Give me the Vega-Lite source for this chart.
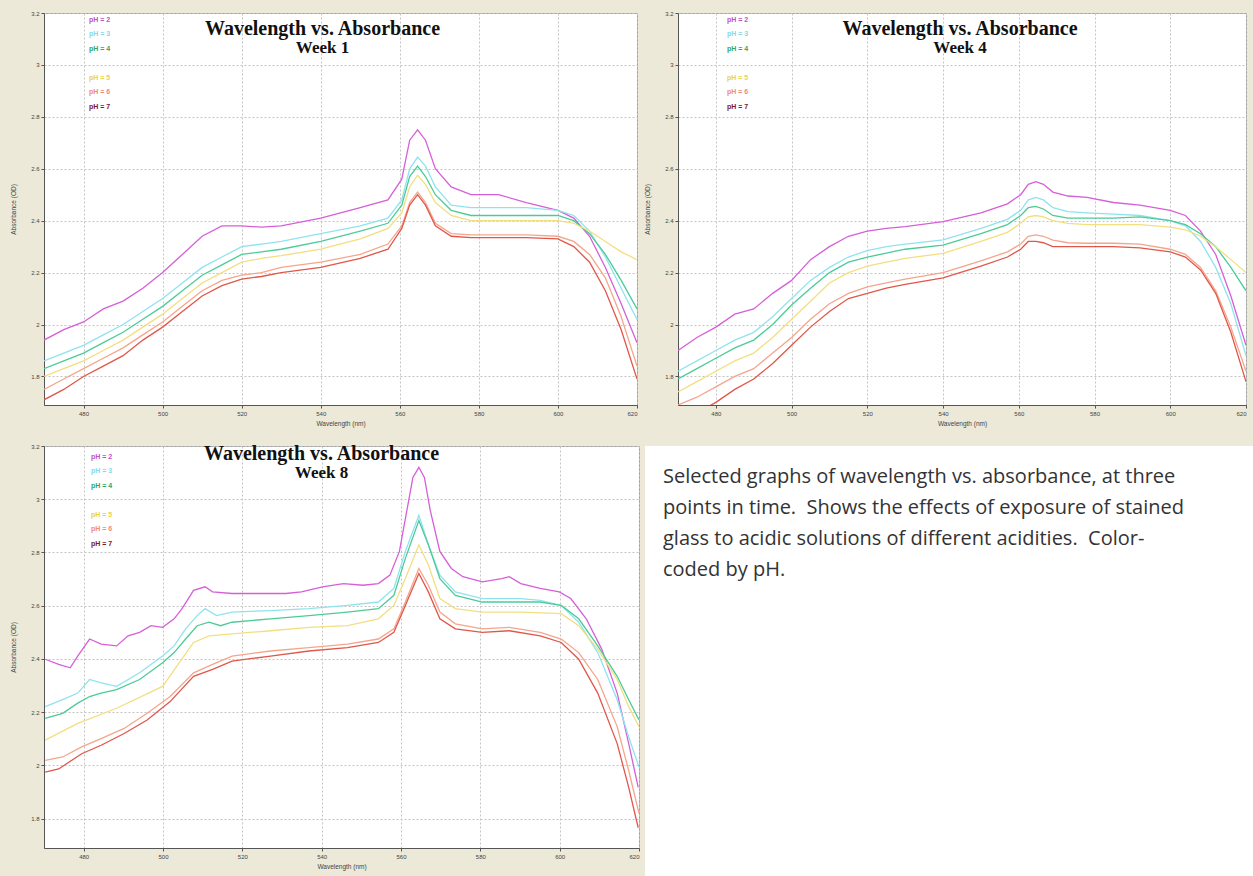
{
"$schema": "https://vega.github.io/schema/vega-lite/v6.json",
"background": "#ECE9D8",
"padding": {"left": 9, "top": 9, "right": 0, "bottom": 0},
"datasets": {
"note": [
{"line": 1, "text": "Selected graphs of wavelength vs. absorbance, at three"},
{"line": 2, "text": "points in time.\u00a0 Shows the effects of exposure of stained"},
{"line": 3, "text": "glass to acidic solutions of different acidities.\u00a0 Color-"},
{"line": 4, "text": "coded by pH."}
],
"spectra": [
{"week":1,"pH":2,"nm":470,"absorbance":1.94},{"week":1,"pH":2,"nm":475,"absorbance":1.98},{"week":1,"pH":2,"nm":480,"absorbance":2.01},{"week":1,"pH":2,"nm":485,"absorbance":2.06},{"week":1,"pH":2,"nm":490,"absorbance":2.09},{"week":1,"pH":2,"nm":495,"absorbance":2.14},{"week":1,"pH":2,"nm":500,"absorbance":2.2},{"week":1,"pH":2,"nm":505,"absorbance":2.27},{"week":1,"pH":2,"nm":510,"absorbance":2.34},{"week":1,"pH":2,"nm":515,"absorbance":2.38},{"week":1,"pH":2,"nm":520,"absorbance":2.38},{"week":1,"pH":2,"nm":525,"absorbance":2.375},{"week":1,"pH":2,"nm":530,"absorbance":2.38},{"week":1,"pH":2,"nm":540,"absorbance":2.41},{"week":1,"pH":2,"nm":550,"absorbance":2.45},{"week":1,"pH":2,"nm":557,"absorbance":2.48},{"week":1,"pH":2,"nm":560.5,"absorbance":2.56},{"week":1,"pH":2,"nm":562.5,"absorbance":2.71},{"week":1,"pH":2,"nm":564.5,"absorbance":2.75},{"week":1,"pH":2,"nm":566.5,"absorbance":2.71},{"week":1,"pH":2,"nm":569,"absorbance":2.6},{"week":1,"pH":2,"nm":573,"absorbance":2.53},{"week":1,"pH":2,"nm":578,"absorbance":2.5},{"week":1,"pH":2,"nm":585,"absorbance":2.5},{"week":1,"pH":2,"nm":592,"absorbance":2.47},{"week":1,"pH":2,"nm":600,"absorbance":2.44},{"week":1,"pH":2,"nm":604,"absorbance":2.41},{"week":1,"pH":2,"nm":608,"absorbance":2.34},{"week":1,"pH":2,"nm":612,"absorbance":2.22},{"week":1,"pH":2,"nm":616,"absorbance":2.08},{"week":1,"pH":2,"nm":620,"absorbance":1.93},
{"week":1,"pH":3,"nm":470,"absorbance":1.86},{"week":1,"pH":3,"nm":475,"absorbance":1.89},{"week":1,"pH":3,"nm":480,"absorbance":1.92},{"week":1,"pH":3,"nm":485,"absorbance":1.96},{"week":1,"pH":3,"nm":490,"absorbance":2.0},{"week":1,"pH":3,"nm":495,"absorbance":2.05},{"week":1,"pH":3,"nm":500,"absorbance":2.1},{"week":1,"pH":3,"nm":505,"absorbance":2.16},{"week":1,"pH":3,"nm":510,"absorbance":2.22},{"week":1,"pH":3,"nm":515,"absorbance":2.26},{"week":1,"pH":3,"nm":520,"absorbance":2.3},{"week":1,"pH":3,"nm":525,"absorbance":2.31},{"week":1,"pH":3,"nm":530,"absorbance":2.32},{"week":1,"pH":3,"nm":540,"absorbance":2.35},{"week":1,"pH":3,"nm":550,"absorbance":2.38},{"week":1,"pH":3,"nm":557,"absorbance":2.41},{"week":1,"pH":3,"nm":560.5,"absorbance":2.48},{"week":1,"pH":3,"nm":562.5,"absorbance":2.6},{"week":1,"pH":3,"nm":564.5,"absorbance":2.645},{"week":1,"pH":3,"nm":566.5,"absorbance":2.61},{"week":1,"pH":3,"nm":569,"absorbance":2.53},{"week":1,"pH":3,"nm":573,"absorbance":2.46},{"week":1,"pH":3,"nm":578,"absorbance":2.45},{"week":1,"pH":3,"nm":585,"absorbance":2.45},{"week":1,"pH":3,"nm":592,"absorbance":2.45},{"week":1,"pH":3,"nm":600,"absorbance":2.44},{"week":1,"pH":3,"nm":604,"absorbance":2.42},{"week":1,"pH":3,"nm":608,"absorbance":2.36},{"week":1,"pH":3,"nm":612,"absorbance":2.26},{"week":1,"pH":3,"nm":616,"absorbance":2.14},{"week":1,"pH":3,"nm":620,"absorbance":2.02},
{"week":1,"pH":4,"nm":470,"absorbance":1.83},{"week":1,"pH":4,"nm":475,"absorbance":1.86},{"week":1,"pH":4,"nm":480,"absorbance":1.89},{"week":1,"pH":4,"nm":485,"absorbance":1.93},{"week":1,"pH":4,"nm":490,"absorbance":1.97},{"week":1,"pH":4,"nm":495,"absorbance":2.02},{"week":1,"pH":4,"nm":500,"absorbance":2.07},{"week":1,"pH":4,"nm":505,"absorbance":2.13},{"week":1,"pH":4,"nm":510,"absorbance":2.19},{"week":1,"pH":4,"nm":515,"absorbance":2.23},{"week":1,"pH":4,"nm":520,"absorbance":2.27},{"week":1,"pH":4,"nm":525,"absorbance":2.28},{"week":1,"pH":4,"nm":530,"absorbance":2.29},{"week":1,"pH":4,"nm":540,"absorbance":2.32},{"week":1,"pH":4,"nm":550,"absorbance":2.36},{"week":1,"pH":4,"nm":557,"absorbance":2.39},{"week":1,"pH":4,"nm":560.5,"absorbance":2.46},{"week":1,"pH":4,"nm":562.5,"absorbance":2.57},{"week":1,"pH":4,"nm":564.5,"absorbance":2.61},{"week":1,"pH":4,"nm":566.5,"absorbance":2.57},{"week":1,"pH":4,"nm":569,"absorbance":2.5},{"week":1,"pH":4,"nm":573,"absorbance":2.44},{"week":1,"pH":4,"nm":578,"absorbance":2.42},{"week":1,"pH":4,"nm":585,"absorbance":2.42},{"week":1,"pH":4,"nm":592,"absorbance":2.42},{"week":1,"pH":4,"nm":600,"absorbance":2.42},{"week":1,"pH":4,"nm":604,"absorbance":2.4},{"week":1,"pH":4,"nm":608,"absorbance":2.35},{"week":1,"pH":4,"nm":612,"absorbance":2.27},{"week":1,"pH":4,"nm":616,"absorbance":2.17},{"week":1,"pH":4,"nm":620,"absorbance":2.06},
{"week":1,"pH":5,"nm":470,"absorbance":1.8},{"week":1,"pH":5,"nm":475,"absorbance":1.83},{"week":1,"pH":5,"nm":480,"absorbance":1.86},{"week":1,"pH":5,"nm":485,"absorbance":1.9},{"week":1,"pH":5,"nm":490,"absorbance":1.94},{"week":1,"pH":5,"nm":495,"absorbance":1.99},{"week":1,"pH":5,"nm":500,"absorbance":2.04},{"week":1,"pH":5,"nm":505,"absorbance":2.1},{"week":1,"pH":5,"nm":510,"absorbance":2.16},{"week":1,"pH":5,"nm":515,"absorbance":2.2},{"week":1,"pH":5,"nm":520,"absorbance":2.24},{"week":1,"pH":5,"nm":525,"absorbance":2.255},{"week":1,"pH":5,"nm":530,"absorbance":2.265},{"week":1,"pH":5,"nm":540,"absorbance":2.29},{"week":1,"pH":5,"nm":550,"absorbance":2.33},{"week":1,"pH":5,"nm":557,"absorbance":2.37},{"week":1,"pH":5,"nm":560.5,"absorbance":2.43},{"week":1,"pH":5,"nm":562.5,"absorbance":2.53},{"week":1,"pH":5,"nm":564.5,"absorbance":2.575},{"week":1,"pH":5,"nm":566.5,"absorbance":2.54},{"week":1,"pH":5,"nm":569,"absorbance":2.47},{"week":1,"pH":5,"nm":573,"absorbance":2.42},{"week":1,"pH":5,"nm":578,"absorbance":2.4},{"week":1,"pH":5,"nm":585,"absorbance":2.4},{"week":1,"pH":5,"nm":592,"absorbance":2.4},{"week":1,"pH":5,"nm":600,"absorbance":2.4},{"week":1,"pH":5,"nm":604,"absorbance":2.39},{"week":1,"pH":5,"nm":608,"absorbance":2.36},{"week":1,"pH":5,"nm":612,"absorbance":2.32},{"week":1,"pH":5,"nm":616,"absorbance":2.28},{"week":1,"pH":5,"nm":620,"absorbance":2.25},
{"week":1,"pH":6,"nm":470,"absorbance":1.75},{"week":1,"pH":6,"nm":475,"absorbance":1.79},{"week":1,"pH":6,"nm":480,"absorbance":1.83},{"week":1,"pH":6,"nm":485,"absorbance":1.87},{"week":1,"pH":6,"nm":490,"absorbance":1.91},{"week":1,"pH":6,"nm":495,"absorbance":1.96},{"week":1,"pH":6,"nm":500,"absorbance":2.01},{"week":1,"pH":6,"nm":505,"absorbance":2.07},{"week":1,"pH":6,"nm":510,"absorbance":2.13},{"week":1,"pH":6,"nm":515,"absorbance":2.17},{"week":1,"pH":6,"nm":520,"absorbance":2.19},{"week":1,"pH":6,"nm":525,"absorbance":2.2},{"week":1,"pH":6,"nm":530,"absorbance":2.22},{"week":1,"pH":6,"nm":540,"absorbance":2.24},{"week":1,"pH":6,"nm":550,"absorbance":2.27},{"week":1,"pH":6,"nm":557,"absorbance":2.31},{"week":1,"pH":6,"nm":560.5,"absorbance":2.38},{"week":1,"pH":6,"nm":562.5,"absorbance":2.47},{"week":1,"pH":6,"nm":564.5,"absorbance":2.51},{"week":1,"pH":6,"nm":566.5,"absorbance":2.47},{"week":1,"pH":6,"nm":569,"absorbance":2.39},{"week":1,"pH":6,"nm":573,"absorbance":2.35},{"week":1,"pH":6,"nm":578,"absorbance":2.345},{"week":1,"pH":6,"nm":585,"absorbance":2.345},{"week":1,"pH":6,"nm":592,"absorbance":2.345},{"week":1,"pH":6,"nm":600,"absorbance":2.34},{"week":1,"pH":6,"nm":604,"absorbance":2.32},{"week":1,"pH":6,"nm":608,"absorbance":2.27},{"week":1,"pH":6,"nm":612,"absorbance":2.18},{"week":1,"pH":6,"nm":616,"absorbance":2.03},{"week":1,"pH":6,"nm":620,"absorbance":1.84},
{"week":1,"pH":7,"nm":470,"absorbance":1.71},{"week":1,"pH":7,"nm":475,"absorbance":1.75},{"week":1,"pH":7,"nm":480,"absorbance":1.8},{"week":1,"pH":7,"nm":485,"absorbance":1.84},{"week":1,"pH":7,"nm":490,"absorbance":1.88},{"week":1,"pH":7,"nm":495,"absorbance":1.94},{"week":1,"pH":7,"nm":500,"absorbance":1.99},{"week":1,"pH":7,"nm":505,"absorbance":2.05},{"week":1,"pH":7,"nm":510,"absorbance":2.11},{"week":1,"pH":7,"nm":515,"absorbance":2.15},{"week":1,"pH":7,"nm":520,"absorbance":2.175},{"week":1,"pH":7,"nm":525,"absorbance":2.185},{"week":1,"pH":7,"nm":530,"absorbance":2.2},{"week":1,"pH":7,"nm":540,"absorbance":2.22},{"week":1,"pH":7,"nm":550,"absorbance":2.255},{"week":1,"pH":7,"nm":557,"absorbance":2.29},{"week":1,"pH":7,"nm":560.5,"absorbance":2.37},{"week":1,"pH":7,"nm":562.5,"absorbance":2.46},{"week":1,"pH":7,"nm":564.5,"absorbance":2.5},{"week":1,"pH":7,"nm":566.5,"absorbance":2.46},{"week":1,"pH":7,"nm":569,"absorbance":2.38},{"week":1,"pH":7,"nm":573,"absorbance":2.34},{"week":1,"pH":7,"nm":578,"absorbance":2.335},{"week":1,"pH":7,"nm":585,"absorbance":2.335},{"week":1,"pH":7,"nm":592,"absorbance":2.335},{"week":1,"pH":7,"nm":600,"absorbance":2.33},{"week":1,"pH":7,"nm":604,"absorbance":2.3},{"week":1,"pH":7,"nm":608,"absorbance":2.24},{"week":1,"pH":7,"nm":612,"absorbance":2.13},{"week":1,"pH":7,"nm":616,"absorbance":1.98},{"week":1,"pH":7,"nm":620,"absorbance":1.79},
{"week":4,"pH":2,"nm":470,"absorbance":1.9},{"week":4,"pH":2,"nm":475,"absorbance":1.95},{"week":4,"pH":2,"nm":480,"absorbance":1.99},{"week":4,"pH":2,"nm":485,"absorbance":2.04},{"week":4,"pH":2,"nm":490,"absorbance":2.06},{"week":4,"pH":2,"nm":495,"absorbance":2.12},{"week":4,"pH":2,"nm":500,"absorbance":2.17},{"week":4,"pH":2,"nm":505,"absorbance":2.25},{"week":4,"pH":2,"nm":510,"absorbance":2.3},{"week":4,"pH":2,"nm":515,"absorbance":2.34},{"week":4,"pH":2,"nm":520,"absorbance":2.36},{"week":4,"pH":2,"nm":525,"absorbance":2.37},{"week":4,"pH":2,"nm":530,"absorbance":2.377},{"week":4,"pH":2,"nm":540,"absorbance":2.396},{"week":4,"pH":2,"nm":550,"absorbance":2.43},{"week":4,"pH":2,"nm":557,"absorbance":2.465},{"week":4,"pH":2,"nm":560.5,"absorbance":2.5},{"week":4,"pH":2,"nm":562.5,"absorbance":2.54},{"week":4,"pH":2,"nm":564.5,"absorbance":2.55},{"week":4,"pH":2,"nm":566.5,"absorbance":2.54},{"week":4,"pH":2,"nm":569,"absorbance":2.51},{"week":4,"pH":2,"nm":573,"absorbance":2.495},{"week":4,"pH":2,"nm":578,"absorbance":2.49},{"week":4,"pH":2,"nm":585,"absorbance":2.47},{"week":4,"pH":2,"nm":592,"absorbance":2.46},{"week":4,"pH":2,"nm":600,"absorbance":2.44},{"week":4,"pH":2,"nm":604,"absorbance":2.42},{"week":4,"pH":2,"nm":608,"absorbance":2.36},{"week":4,"pH":2,"nm":612,"absorbance":2.27},{"week":4,"pH":2,"nm":616,"absorbance":2.11},{"week":4,"pH":2,"nm":620,"absorbance":1.92},
{"week":4,"pH":3,"nm":470,"absorbance":1.82},{"week":4,"pH":3,"nm":475,"absorbance":1.86},{"week":4,"pH":3,"nm":480,"absorbance":1.9},{"week":4,"pH":3,"nm":485,"absorbance":1.94},{"week":4,"pH":3,"nm":490,"absorbance":1.97},{"week":4,"pH":3,"nm":495,"absorbance":2.03},{"week":4,"pH":3,"nm":500,"absorbance":2.1},{"week":4,"pH":3,"nm":505,"absorbance":2.17},{"week":4,"pH":3,"nm":510,"absorbance":2.22},{"week":4,"pH":3,"nm":515,"absorbance":2.26},{"week":4,"pH":3,"nm":520,"absorbance":2.285},{"week":4,"pH":3,"nm":525,"absorbance":2.3},{"week":4,"pH":3,"nm":530,"absorbance":2.31},{"week":4,"pH":3,"nm":540,"absorbance":2.326},{"week":4,"pH":3,"nm":550,"absorbance":2.37},{"week":4,"pH":3,"nm":557,"absorbance":2.405},{"week":4,"pH":3,"nm":560.5,"absorbance":2.44},{"week":4,"pH":3,"nm":562.5,"absorbance":2.48},{"week":4,"pH":3,"nm":564.5,"absorbance":2.49},{"week":4,"pH":3,"nm":566.5,"absorbance":2.48},{"week":4,"pH":3,"nm":569,"absorbance":2.45},{"week":4,"pH":3,"nm":573,"absorbance":2.435},{"week":4,"pH":3,"nm":578,"absorbance":2.43},{"week":4,"pH":3,"nm":585,"absorbance":2.425},{"week":4,"pH":3,"nm":592,"absorbance":2.42},{"week":4,"pH":3,"nm":600,"absorbance":2.4},{"week":4,"pH":3,"nm":604,"absorbance":2.38},{"week":4,"pH":3,"nm":608,"absorbance":2.32},{"week":4,"pH":3,"nm":612,"absorbance":2.22},{"week":4,"pH":3,"nm":616,"absorbance":2.08},{"week":4,"pH":3,"nm":620,"absorbance":1.88},
{"week":4,"pH":4,"nm":470,"absorbance":1.79},{"week":4,"pH":4,"nm":475,"absorbance":1.83},{"week":4,"pH":4,"nm":480,"absorbance":1.87},{"week":4,"pH":4,"nm":485,"absorbance":1.91},{"week":4,"pH":4,"nm":490,"absorbance":1.94},{"week":4,"pH":4,"nm":495,"absorbance":2.0},{"week":4,"pH":4,"nm":500,"absorbance":2.075},{"week":4,"pH":4,"nm":505,"absorbance":2.14},{"week":4,"pH":4,"nm":510,"absorbance":2.2},{"week":4,"pH":4,"nm":515,"absorbance":2.24},{"week":4,"pH":4,"nm":520,"absorbance":2.26},{"week":4,"pH":4,"nm":525,"absorbance":2.275},{"week":4,"pH":4,"nm":530,"absorbance":2.29},{"week":4,"pH":4,"nm":540,"absorbance":2.306},{"week":4,"pH":4,"nm":550,"absorbance":2.35},{"week":4,"pH":4,"nm":557,"absorbance":2.385},{"week":4,"pH":4,"nm":560.5,"absorbance":2.42},{"week":4,"pH":4,"nm":562.5,"absorbance":2.45},{"week":4,"pH":4,"nm":564.5,"absorbance":2.455},{"week":4,"pH":4,"nm":566.5,"absorbance":2.445},{"week":4,"pH":4,"nm":569,"absorbance":2.42},{"week":4,"pH":4,"nm":573,"absorbance":2.41},{"week":4,"pH":4,"nm":578,"absorbance":2.41},{"week":4,"pH":4,"nm":585,"absorbance":2.41},{"week":4,"pH":4,"nm":592,"absorbance":2.415},{"week":4,"pH":4,"nm":600,"absorbance":2.4},{"week":4,"pH":4,"nm":604,"absorbance":2.385},{"week":4,"pH":4,"nm":608,"absorbance":2.35},{"week":4,"pH":4,"nm":612,"absorbance":2.3},{"week":4,"pH":4,"nm":616,"absorbance":2.22},{"week":4,"pH":4,"nm":620,"absorbance":2.13},
{"week":4,"pH":5,"nm":470,"absorbance":1.74},{"week":4,"pH":5,"nm":475,"absorbance":1.78},{"week":4,"pH":5,"nm":480,"absorbance":1.82},{"week":4,"pH":5,"nm":485,"absorbance":1.86},{"week":4,"pH":5,"nm":490,"absorbance":1.89},{"week":4,"pH":5,"nm":495,"absorbance":1.95},{"week":4,"pH":5,"nm":500,"absorbance":2.02},{"week":4,"pH":5,"nm":505,"absorbance":2.09},{"week":4,"pH":5,"nm":510,"absorbance":2.16},{"week":4,"pH":5,"nm":515,"absorbance":2.2},{"week":4,"pH":5,"nm":520,"absorbance":2.225},{"week":4,"pH":5,"nm":525,"absorbance":2.24},{"week":4,"pH":5,"nm":530,"absorbance":2.255},{"week":4,"pH":5,"nm":540,"absorbance":2.274},{"week":4,"pH":5,"nm":550,"absorbance":2.32},{"week":4,"pH":5,"nm":557,"absorbance":2.355},{"week":4,"pH":5,"nm":560.5,"absorbance":2.39},{"week":4,"pH":5,"nm":562.5,"absorbance":2.415},{"week":4,"pH":5,"nm":564.5,"absorbance":2.42},{"week":4,"pH":5,"nm":566.5,"absorbance":2.415},{"week":4,"pH":5,"nm":569,"absorbance":2.4},{"week":4,"pH":5,"nm":573,"absorbance":2.39},{"week":4,"pH":5,"nm":578,"absorbance":2.385},{"week":4,"pH":5,"nm":585,"absorbance":2.385},{"week":4,"pH":5,"nm":592,"absorbance":2.385},{"week":4,"pH":5,"nm":600,"absorbance":2.375},{"week":4,"pH":5,"nm":604,"absorbance":2.365},{"week":4,"pH":5,"nm":608,"absorbance":2.34},{"week":4,"pH":5,"nm":612,"absorbance":2.3},{"week":4,"pH":5,"nm":616,"absorbance":2.25},{"week":4,"pH":5,"nm":620,"absorbance":2.2},
{"week":4,"pH":6,"nm":470,"absorbance":1.69},{"week":4,"pH":6,"nm":475,"absorbance":1.72},{"week":4,"pH":6,"nm":480,"absorbance":1.76},{"week":4,"pH":6,"nm":485,"absorbance":1.8},{"week":4,"pH":6,"nm":490,"absorbance":1.83},{"week":4,"pH":6,"nm":495,"absorbance":1.89},{"week":4,"pH":6,"nm":500,"absorbance":1.95},{"week":4,"pH":6,"nm":505,"absorbance":2.02},{"week":4,"pH":6,"nm":510,"absorbance":2.08},{"week":4,"pH":6,"nm":515,"absorbance":2.12},{"week":4,"pH":6,"nm":520,"absorbance":2.145},{"week":4,"pH":6,"nm":525,"absorbance":2.16},{"week":4,"pH":6,"nm":530,"absorbance":2.175},{"week":4,"pH":6,"nm":540,"absorbance":2.2},{"week":4,"pH":6,"nm":550,"absorbance":2.245},{"week":4,"pH":6,"nm":557,"absorbance":2.28},{"week":4,"pH":6,"nm":560.5,"absorbance":2.31},{"week":4,"pH":6,"nm":562.5,"absorbance":2.34},{"week":4,"pH":6,"nm":564.5,"absorbance":2.345},{"week":4,"pH":6,"nm":566.5,"absorbance":2.34},{"week":4,"pH":6,"nm":569,"absorbance":2.325},{"week":4,"pH":6,"nm":573,"absorbance":2.315},{"week":4,"pH":6,"nm":578,"absorbance":2.313},{"week":4,"pH":6,"nm":585,"absorbance":2.313},{"week":4,"pH":6,"nm":592,"absorbance":2.31},{"week":4,"pH":6,"nm":600,"absorbance":2.29},{"week":4,"pH":6,"nm":604,"absorbance":2.27},{"week":4,"pH":6,"nm":608,"absorbance":2.22},{"week":4,"pH":6,"nm":612,"absorbance":2.13},{"week":4,"pH":6,"nm":616,"absorbance":1.99},{"week":4,"pH":6,"nm":620,"absorbance":1.82},
{"week":4,"pH":7,"nm":470,"absorbance":1.63},{"week":4,"pH":7,"nm":475,"absorbance":1.66},{"week":4,"pH":7,"nm":480,"absorbance":1.7},{"week":4,"pH":7,"nm":485,"absorbance":1.75},{"week":4,"pH":7,"nm":490,"absorbance":1.79},{"week":4,"pH":7,"nm":495,"absorbance":1.85},{"week":4,"pH":7,"nm":500,"absorbance":1.92},{"week":4,"pH":7,"nm":505,"absorbance":1.99},{"week":4,"pH":7,"nm":510,"absorbance":2.05},{"week":4,"pH":7,"nm":515,"absorbance":2.1},{"week":4,"pH":7,"nm":520,"absorbance":2.12},{"week":4,"pH":7,"nm":525,"absorbance":2.14},{"week":4,"pH":7,"nm":530,"absorbance":2.155},{"week":4,"pH":7,"nm":540,"absorbance":2.18},{"week":4,"pH":7,"nm":550,"absorbance":2.225},{"week":4,"pH":7,"nm":557,"absorbance":2.26},{"week":4,"pH":7,"nm":560.5,"absorbance":2.29},{"week":4,"pH":7,"nm":562.5,"absorbance":2.32},{"week":4,"pH":7,"nm":564.5,"absorbance":2.32},{"week":4,"pH":7,"nm":566.5,"absorbance":2.315},{"week":4,"pH":7,"nm":569,"absorbance":2.3},{"week":4,"pH":7,"nm":573,"absorbance":2.3},{"week":4,"pH":7,"nm":578,"absorbance":2.3},{"week":4,"pH":7,"nm":585,"absorbance":2.3},{"week":4,"pH":7,"nm":592,"absorbance":2.295},{"week":4,"pH":7,"nm":600,"absorbance":2.28},{"week":4,"pH":7,"nm":604,"absorbance":2.26},{"week":4,"pH":7,"nm":608,"absorbance":2.21},{"week":4,"pH":7,"nm":612,"absorbance":2.12},{"week":4,"pH":7,"nm":616,"absorbance":1.97},{"week":4,"pH":7,"nm":620,"absorbance":1.78},
{"week":8,"pH":2,"nm":470.3,"absorbance":2.399},{"week":8,"pH":2,"nm":473.7,"absorbance":2.38},{"week":8,"pH":2,"nm":476.6,"absorbance":2.367},{"week":8,"pH":2,"nm":478.5,"absorbance":2.411},{"week":8,"pH":2,"nm":481.5,"absorbance":2.475},{"week":8,"pH":2,"nm":484.4,"absorbance":2.456},{"week":8,"pH":2,"nm":488.3,"absorbance":2.449},{"week":8,"pH":2,"nm":491.2,"absorbance":2.487},{"week":8,"pH":2,"nm":494.1,"absorbance":2.5},{"week":8,"pH":2,"nm":497,"absorbance":2.525},{"week":8,"pH":2,"nm":499.9,"absorbance":2.519},{"week":8,"pH":2,"nm":502.8,"absorbance":2.551},{"week":8,"pH":2,"nm":504.8,"absorbance":2.589},{"week":8,"pH":2,"nm":507.7,"absorbance":2.658},{"week":8,"pH":2,"nm":510.6,"absorbance":2.671},{"week":8,"pH":2,"nm":512.5,"absorbance":2.652},{"week":8,"pH":2,"nm":517.4,"absorbance":2.646},{"week":8,"pH":2,"nm":523.2,"absorbance":2.646},{"week":8,"pH":2,"nm":531,"absorbance":2.646},{"week":8,"pH":2,"nm":534.9,"absorbance":2.652},{"week":8,"pH":2,"nm":540.2,"absorbance":2.671},{"week":8,"pH":2,"nm":545.5,"absorbance":2.683},{"week":8,"pH":2,"nm":550.4,"absorbance":2.677},{"week":8,"pH":2,"nm":554.3,"absorbance":2.683},{"week":8,"pH":2,"nm":557.2,"absorbance":2.715},{"week":8,"pH":2,"nm":559.6,"absorbance":2.804},{"week":8,"pH":2,"nm":561.6,"absorbance":2.968},{"week":8,"pH":2,"nm":563,"absorbance":3.082},{"week":8,"pH":2,"nm":564.5,"absorbance":3.12},{"week":8,"pH":2,"nm":565.9,"absorbance":3.082},{"week":8,"pH":2,"nm":567.4,"absorbance":2.956},{"week":8,"pH":2,"nm":569.8,"absorbance":2.804},{"week":8,"pH":2,"nm":572.7,"absorbance":2.74},{"week":8,"pH":2,"nm":575.6,"absorbance":2.709},{"week":8,"pH":2,"nm":580.5,"absorbance":2.69},{"week":8,"pH":2,"nm":585.4,"absorbance":2.702},{"week":8,"pH":2,"nm":587.3,"absorbance":2.709},{"week":8,"pH":2,"nm":590.2,"absorbance":2.683},{"week":8,"pH":2,"nm":595.1,"absorbance":2.665},{"week":8,"pH":2,"nm":599.9,"absorbance":2.652},{"week":8,"pH":2,"nm":602.8,"absorbance":2.627},{"week":8,"pH":2,"nm":606.7,"absorbance":2.551},{"week":8,"pH":2,"nm":610.6,"absorbance":2.437},{"week":8,"pH":2,"nm":614.5,"absorbance":2.272},{"week":8,"pH":2,"nm":617.4,"absorbance":2.082},{"week":8,"pH":2,"nm":619.8,"absorbance":1.918},
{"week":8,"pH":3,"nm":470.3,"absorbance":2.221},{"week":8,"pH":3,"nm":474.7,"absorbance":2.247},{"week":8,"pH":3,"nm":478.5,"absorbance":2.272},{"week":8,"pH":3,"nm":481.5,"absorbance":2.323},{"week":8,"pH":3,"nm":484.4,"absorbance":2.31},{"week":8,"pH":3,"nm":488.3,"absorbance":2.297},{"week":8,"pH":3,"nm":494.1,"absorbance":2.348},{"week":8,"pH":3,"nm":499.9,"absorbance":2.411},{"week":8,"pH":3,"nm":502.8,"absorbance":2.449},{"week":8,"pH":3,"nm":505.7,"absorbance":2.513},{"week":8,"pH":3,"nm":508.6,"absorbance":2.563},{"week":8,"pH":3,"nm":510.6,"absorbance":2.589},{"week":8,"pH":3,"nm":513.5,"absorbance":2.563},{"week":8,"pH":3,"nm":517.4,"absorbance":2.576},{"week":8,"pH":3,"nm":527.1,"absorbance":2.582},{"week":8,"pH":3,"nm":536.8,"absorbance":2.589},{"week":8,"pH":3,"nm":546.5,"absorbance":2.601},{"week":8,"pH":3,"nm":554.3,"absorbance":2.614},{"week":8,"pH":3,"nm":558.2,"absorbance":2.665},{"week":8,"pH":3,"nm":561.1,"absorbance":2.804},{"week":8,"pH":3,"nm":564.5,"absorbance":2.94},{"week":8,"pH":3,"nm":566.9,"absorbance":2.829},{"week":8,"pH":3,"nm":569.8,"absorbance":2.715},{"week":8,"pH":3,"nm":573.7,"absorbance":2.652},{"week":8,"pH":3,"nm":580.5,"absorbance":2.627},{"week":8,"pH":3,"nm":590.2,"absorbance":2.627},{"week":8,"pH":3,"nm":595.1,"absorbance":2.62},{"week":8,"pH":3,"nm":600.4,"absorbance":2.601},{"week":8,"pH":3,"nm":604.8,"absorbance":2.538},{"week":8,"pH":3,"nm":609.6,"absorbance":2.424},{"week":8,"pH":3,"nm":614.5,"absorbance":2.247},{"week":8,"pH":3,"nm":617.4,"absorbance":2.107},{"week":8,"pH":3,"nm":620,"absorbance":1.994},
{"week":8,"pH":4,"nm":470.3,"absorbance":2.177},{"week":8,"pH":4,"nm":474.7,"absorbance":2.196},{"week":8,"pH":4,"nm":478.5,"absorbance":2.234},{"week":8,"pH":4,"nm":481.5,"absorbance":2.259},{"week":8,"pH":4,"nm":484.4,"absorbance":2.272},{"week":8,"pH":4,"nm":488.3,"absorbance":2.285},{"week":8,"pH":4,"nm":494.1,"absorbance":2.323},{"week":8,"pH":4,"nm":499.9,"absorbance":2.386},{"week":8,"pH":4,"nm":502.8,"absorbance":2.424},{"week":8,"pH":4,"nm":505.7,"absorbance":2.475},{"week":8,"pH":4,"nm":508.6,"absorbance":2.525},{"week":8,"pH":4,"nm":511.6,"absorbance":2.538},{"week":8,"pH":4,"nm":514.5,"absorbance":2.525},{"week":8,"pH":4,"nm":517.4,"absorbance":2.538},{"week":8,"pH":4,"nm":527.1,"absorbance":2.551},{"week":8,"pH":4,"nm":536.8,"absorbance":2.563},{"week":8,"pH":4,"nm":546.5,"absorbance":2.576},{"week":8,"pH":4,"nm":554.3,"absorbance":2.589},{"week":8,"pH":4,"nm":558.2,"absorbance":2.639},{"week":8,"pH":4,"nm":561.1,"absorbance":2.778},{"week":8,"pH":4,"nm":564.5,"absorbance":2.92},{"week":8,"pH":4,"nm":566.9,"absorbance":2.829},{"week":8,"pH":4,"nm":569.8,"absorbance":2.702},{"week":8,"pH":4,"nm":573.7,"absorbance":2.639},{"week":8,"pH":4,"nm":580.5,"absorbance":2.614},{"week":8,"pH":4,"nm":590.2,"absorbance":2.614},{"week":8,"pH":4,"nm":595.1,"absorbance":2.614},{"week":8,"pH":4,"nm":600.4,"absorbance":2.601},{"week":8,"pH":4,"nm":604.8,"absorbance":2.551},{"week":8,"pH":4,"nm":609.6,"absorbance":2.449},{"week":8,"pH":4,"nm":614.5,"absorbance":2.335},{"week":8,"pH":4,"nm":617.4,"absorbance":2.247},{"week":8,"pH":4,"nm":620,"absorbance":2.171},
{"week":8,"pH":5,"nm":470.3,"absorbance":2.095},{"week":8,"pH":5,"nm":478.5,"absorbance":2.158},{"week":8,"pH":5,"nm":488.3,"absorbance":2.215},{"week":8,"pH":5,"nm":499.9,"absorbance":2.297},{"week":8,"pH":5,"nm":507.7,"absorbance":2.462},{"week":8,"pH":5,"nm":511.6,"absorbance":2.487},{"week":8,"pH":5,"nm":517.4,"absorbance":2.494},{"week":8,"pH":5,"nm":527.1,"absorbance":2.506},{"week":8,"pH":5,"nm":536.8,"absorbance":2.519},{"week":8,"pH":5,"nm":546.5,"absorbance":2.525},{"week":8,"pH":5,"nm":554.3,"absorbance":2.551},{"week":8,"pH":5,"nm":558.2,"absorbance":2.601},{"week":8,"pH":5,"nm":561.1,"absorbance":2.702},{"week":8,"pH":5,"nm":564.5,"absorbance":2.829},{"week":8,"pH":5,"nm":566.9,"absorbance":2.753},{"week":8,"pH":5,"nm":569.8,"absorbance":2.627},{"week":8,"pH":5,"nm":573.7,"absorbance":2.589},{"week":8,"pH":5,"nm":580.5,"absorbance":2.576},{"week":8,"pH":5,"nm":590.2,"absorbance":2.576},{"week":8,"pH":5,"nm":600.4,"absorbance":2.57},{"week":8,"pH":5,"nm":604.8,"absorbance":2.525},{"week":8,"pH":5,"nm":609.6,"absorbance":2.437},{"week":8,"pH":5,"nm":614.5,"absorbance":2.323},{"week":8,"pH":5,"nm":617.4,"absorbance":2.221},{"week":8,"pH":5,"nm":620,"absorbance":2.146},
{"week":8,"pH":6,"nm":470.3,"absorbance":2.019},{"week":8,"pH":6,"nm":474.7,"absorbance":2.032},{"week":8,"pH":6,"nm":479.5,"absorbance":2.07},{"week":8,"pH":6,"nm":484.4,"absorbance":2.101},{"week":8,"pH":6,"nm":490.2,"absorbance":2.139},{"week":8,"pH":6,"nm":496,"absorbance":2.196},{"week":8,"pH":6,"nm":501.8,"absorbance":2.259},{"week":8,"pH":6,"nm":507.7,"absorbance":2.348},{"week":8,"pH":6,"nm":512.5,"absorbance":2.38},{"week":8,"pH":6,"nm":517.4,"absorbance":2.411},{"week":8,"pH":6,"nm":527.1,"absorbance":2.43},{"week":8,"pH":6,"nm":536.8,"absorbance":2.443},{"week":8,"pH":6,"nm":546.5,"absorbance":2.456},{"week":8,"pH":6,"nm":554.3,"absorbance":2.475},{"week":8,"pH":6,"nm":558.2,"absorbance":2.513},{"week":8,"pH":6,"nm":561.1,"absorbance":2.614},{"week":8,"pH":6,"nm":564.5,"absorbance":2.74},{"week":8,"pH":6,"nm":566.9,"absorbance":2.677},{"week":8,"pH":6,"nm":569.8,"absorbance":2.576},{"week":8,"pH":6,"nm":573.7,"absorbance":2.532},{"week":8,"pH":6,"nm":580.5,"absorbance":2.513},{"week":8,"pH":6,"nm":587.3,"absorbance":2.519},{"week":8,"pH":6,"nm":595.1,"absorbance":2.5},{"week":8,"pH":6,"nm":600.4,"absorbance":2.475},{"week":8,"pH":6,"nm":604.8,"absorbance":2.424},{"week":8,"pH":6,"nm":609.6,"absorbance":2.323},{"week":8,"pH":6,"nm":614.5,"absorbance":2.146},{"week":8,"pH":6,"nm":617.4,"absorbance":1.981},{"week":8,"pH":6,"nm":620,"absorbance":1.82},
{"week":8,"pH":7,"nm":470.3,"absorbance":1.975},{"week":8,"pH":7,"nm":473.7,"absorbance":1.987},{"week":8,"pH":7,"nm":479.5,"absorbance":2.044},{"week":8,"pH":7,"nm":484.4,"absorbance":2.076},{"week":8,"pH":7,"nm":490.2,"absorbance":2.12},{"week":8,"pH":7,"nm":496,"absorbance":2.171},{"week":8,"pH":7,"nm":501.8,"absorbance":2.24},{"week":8,"pH":7,"nm":507.7,"absorbance":2.335},{"week":8,"pH":7,"nm":512.5,"absorbance":2.361},{"week":8,"pH":7,"nm":517.4,"absorbance":2.392},{"week":8,"pH":7,"nm":527.1,"absorbance":2.411},{"week":8,"pH":7,"nm":536.8,"absorbance":2.43},{"week":8,"pH":7,"nm":546.5,"absorbance":2.443},{"week":8,"pH":7,"nm":554.3,"absorbance":2.462},{"week":8,"pH":7,"nm":558.2,"absorbance":2.5},{"week":8,"pH":7,"nm":561.1,"absorbance":2.601},{"week":8,"pH":7,"nm":564.5,"absorbance":2.721},{"week":8,"pH":7,"nm":566.9,"absorbance":2.652},{"week":8,"pH":7,"nm":569.8,"absorbance":2.551},{"week":8,"pH":7,"nm":573.7,"absorbance":2.513},{"week":8,"pH":7,"nm":580.5,"absorbance":2.5},{"week":8,"pH":7,"nm":587.3,"absorbance":2.506},{"week":8,"pH":7,"nm":595.1,"absorbance":2.487},{"week":8,"pH":7,"nm":600.4,"absorbance":2.462},{"week":8,"pH":7,"nm":604.8,"absorbance":2.399},{"week":8,"pH":7,"nm":609.6,"absorbance":2.272},{"week":8,"pH":7,"nm":614.5,"absorbance":2.082},{"week":8,"pH":7,"nm":617.4,"absorbance":1.918},{"week":8,"pH":7,"nm":619.8,"absorbance":1.766}
]
},
"resolve": {"scale": {"color": "independent"}},
"spacing": 15,
"vconcat": [
{
"spacing": 5,
"resolve": {"scale": {"color": "independent"}},
"hconcat": [
{
"width": 593, "height": 392,
"data": {"name": "spectra"},
"transform": [{"filter": "datum.week == 1"}],
"title": {"text": "Wavelength vs. Absorbance", "subtitle": "Week 1", "offset": -46, "dx": -18},
"mark": {"type": "line", "strokeWidth": 1.3, "clip": true},
"encoding": {
"x": {"field": "nm", "type": "quantitative", "scale": {"domain": [470, 620], "nice": false, "zero": false}, "axis": {"values": [480, 500, 520, 540, 560, 580, 600, 620], "title": "Wavelength (nm)"}},
"y": {"field": "absorbance", "type": "quantitative", "scale": {"domain": [1.69, 3.2], "nice": false, "zero": false}, "axis": {"values": [1.8, 2, 2.2, 2.4, 2.6, 2.8, 3, 3.2], "format": "~g", "title": "Absorbance (OD)"}},
"color": {"field": "pH", "type": "nominal", "scale": {"domain": [2, 3, 4, 4.5, 5, 6, 7], "range": ["#D65FD8", "#8FE3EE", "#4CCB97", "#ffffff", "#F3DE80", "#F5A58C", "#E0574A"]},
"legend": {"legendX": 38, "legendY": 3, "labelExpr": "datum.value == 4.5 ? '' : 'pH = ' + datum.label",
"encode": {"labels": {"update": {"fill": {"signal": "datum.value == 2 ? '#C04FC8' : datum.value == 3 ? '#86D9E8' : datum.value == 4 ? '#2FA56A' : datum.value == 5 ? '#E9D347' : datum.value == 6 ? '#F08A78' : '#7A1535'"}}}}}}
}
},
{
"width": 568, "height": 392,
"data": {"name": "spectra"},
"transform": [{"filter": "datum.week == 4"}],
"title": {"text": "Wavelength vs. Absorbance", "subtitle": "Week 4", "offset": -46, "dx": -2},
"mark": {"type": "line", "strokeWidth": 1.3, "clip": true},
"encoding": {
"x": {"field": "nm", "type": "quantitative", "scale": {"domain": [470, 620], "nice": false, "zero": false}, "axis": {"values": [480, 500, 520, 540, 560, 580, 600, 620], "title": "Wavelength (nm)"}},
"y": {"field": "absorbance", "type": "quantitative", "scale": {"domain": [1.69, 3.2], "nice": false, "zero": false}, "axis": {"values": [1.8, 2, 2.2, 2.4, 2.6, 2.8, 3, 3.2], "format": "~g", "title": "Absorbance (OD)"}},
"color": {"field": "pH", "type": "nominal", "scale": {"domain": [2, 3, 4, 4.5, 5, 6, 7], "range": ["#D65FD8", "#8FE3EE", "#4CCB97", "#ffffff", "#F3DE80", "#F5A58C", "#E0574A"]},
"legend": {"legendX": 42, "legendY": 3, "labelExpr": "datum.value == 4.5 ? '' : 'pH = ' + datum.label",
"encode": {"labels": {"update": {"fill": {"signal": "datum.value == 2 ? '#C04FC8' : datum.value == 3 ? '#86D9E8' : datum.value == 4 ? '#2FA56A' : datum.value == 5 ? '#E9D347' : datum.value == 6 ? '#F08A78' : '#7A1535'"}}}}}}
}
}
]
},
{
"spacing": 5,
"resolve": {"scale": {"color": "independent"}},
"hconcat": [
{
"width": 595, "height": 402,
"data": {"name": "spectra"},
"transform": [{"filter": "datum.week == 8"}],
"title": {"text": "Wavelength vs. Absorbance", "subtitle": "Week 8", "offset": -38, "dx": -20},
"mark": {"type": "line", "strokeWidth": 1.3, "clip": true},
"encoding": {
"x": {"field": "nm", "type": "quantitative", "scale": {"domain": [470, 620], "nice": false, "zero": false}, "axis": {"values": [480, 500, 520, 540, 560, 580, 600, 620], "title": "Wavelength (nm)"}},
"y": {"field": "absorbance", "type": "quantitative", "scale": {"domain": [1.69, 3.2], "nice": false, "zero": false}, "axis": {"values": [1.8, 2, 2.2, 2.4, 2.6, 2.8, 3, 3.2], "format": "~g", "title": "Absorbance (OD)"}},
"color": {"field": "pH", "type": "nominal", "scale": {"domain": [2, 3, 4, 4.5, 5, 6, 7], "range": ["#D65FD8", "#8FE3EE", "#4CCB97", "#ffffff", "#F3DE80", "#F5A58C", "#E0574A"]},
"legend": {"legendX": 40, "legendY": 7, "labelExpr": "datum.value == 4.5 ? '' : 'pH = ' + datum.label",
"encode": {"labels": {"update": {"fill": {"signal": "datum.value == 2 ? '#C04FC8' : datum.value == 3 ? '#86D9E8' : datum.value == 4 ? '#2FA56A' : datum.value == 5 ? '#E9D347' : datum.value == 6 ? '#F08A78' : '#7A1535'"}}}}}}
}
},
{
"width": 608, "height": 430,
"view": {"fill": "white", "stroke": null},
"data": {"name": "note"},
"mark": {"type": "text", "align": "left", "baseline": "middle", "font": "Open Sans", "fontSize": 20, "color": "#333333"},
"encoding": {
"x": {"value": 18},
"y": {"field": "line", "type": "quantitative", "scale": {"domain": [0, 13.87], "reverse": true}, "axis": null},
"text": {"field": "text"}
}
}
]
}
],
"config": {
"view": {"fill": "white", "stroke": "#a0a0a0", "strokeWidth": 1},
"axis": {"domainColor": "#555555", "tickColor": "#555555", "tickSize": 3, "labelFont": "Liberation Sans", "labelFontSize": 6, "labelColor": "#444444", "labelPadding": 2, "titleFont": "Liberation Sans", "titleFontSize": 6.5, "titleFontWeight": "normal", "titleColor": "#444444", "gridColor": "#c4c4c4", "gridDash": [2, 2], "gridOpacity": 1},
"axisX": {"labelFlush": true, "titlePadding": 4},
"axisY": {"minExtent": 20, "maxExtent": 20, "titlePadding": 8},
"title": {"font": "Liberation Serif", "fontSize": 20, "fontWeight": "bold", "color": "#111111", "subtitleFont": "Liberation Serif", "subtitleFontSize": 17, "subtitleFontWeight": "bold", "subtitleColor": "#111111", "subtitlePadding": 1, "anchor": "middle", "frame": "group"},
"legend": {"orient": "none", "title": null, "labelFont": "Liberation Sans", "labelFontSize": 7, "labelFontWeight": "bold", "symbolSize": 0, "symbolStrokeWidth": 0, "symbolOpacity": 0, "symbolType": "stroke", "labelOffset": 0, "rowPadding": 6.5, "padding": 0}
}
}
